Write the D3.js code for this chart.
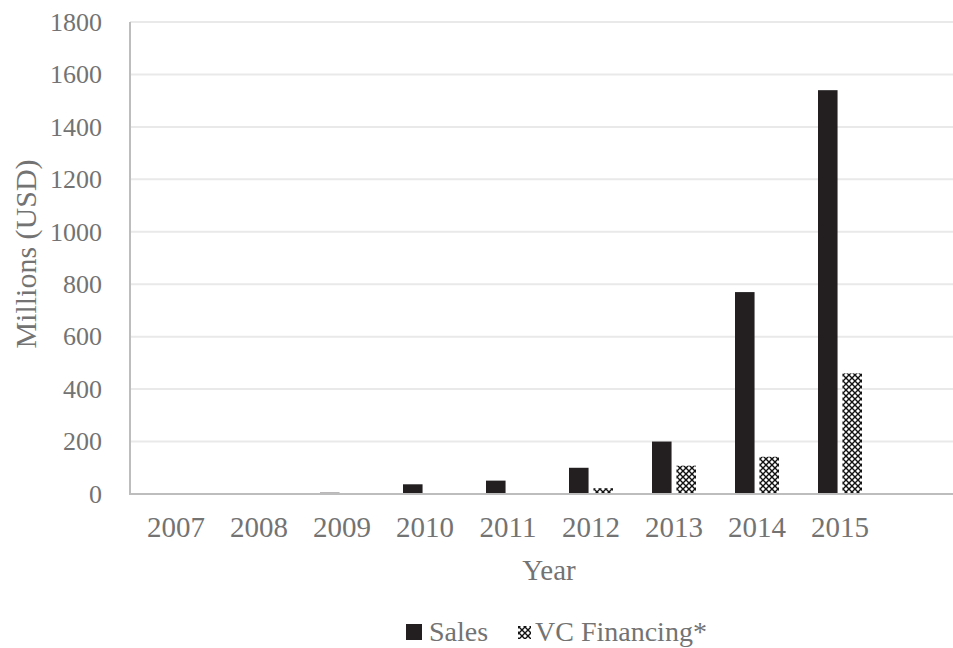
<!DOCTYPE html>
<html>
<head>
<meta charset="utf-8">
<script src="https://cdn.jsdelivr.net/npm/d3@7"></script>
<style>
  html, body { margin: 0; padding: 0; background: #fff; }
  svg { display: block; }
  text { font-family: "Liberation Serif", "Times New Roman", serif; fill: #737373; }
</style>
</head>
<body>
<svg id="chart" width="953" height="648"></svg>
<script>
// Yearly sales and venture-capital financing, millions of USD
const years = ["2007", "2008", "2009", "2010", "2011", "2012", "2013", "2014", "2015"];
const sales = [0, 0, 5, 37, 51, 100, 200, 770, 1540];
const vcFinancing = [0, 0, 0, 0, 0, 22, 108, 142, 460];
const seriesNames = ["Sales", "VC Financing*"];
const yTicks = [0, 200, 400, 600, 800, 1000, 1200, 1400, 1600, 1800];

const W = 953, H = 648;
const plot = { left: 130, right: W, top: 22, bottom: 494 };

const svg = d3.select("#chart");

// Cross-hatched lattice used for the VC series
const defs = svg.append("defs");
const pat = defs.append("pattern")
  .attr("id", "lattice")
  .attr("patternUnits", "userSpaceOnUse")
  .attr("width", 6).attr("height", 6);
pat.append("rect").attr("width", 6).attr("height", 6).attr("fill", "#fff");
pat.append("path")
  .attr("d", "M0,0 L6,6 M6,0 L0,6")
  .attr("stroke", "#111").attr("stroke-width", 1.4);
pat.append("circle").attr("cx", 3).attr("cy", 0).attr("r", 0.9).attr("fill", "#fff");
pat.append("circle").attr("cx", 3).attr("cy", 6).attr("r", 0.9).attr("fill", "#fff");

const y = d3.scaleLinear().domain([0, 1800]).range([plot.bottom, plot.top]);
const x = d3.scaleBand().domain(years).range([134.5, 134.5 + 83 * years.length]).paddingInner(0).paddingOuter(0);
const xs = d3.scaleBand().domain(seriesNames).range([-22, 22]).paddingInner(0.2);

// Horizontal gridlines
svg.append("g")
  .selectAll("line")
  .data(yTicks.filter(d => d > 0))
  .join("line")
  .attr("x1", plot.left).attr("x2", plot.right)
  .attr("y1", d => y(d)).attr("y2", d => y(d))
  .attr("stroke", "#e9e9e9").attr("stroke-width", 2);

// Y axis
const yAxis = svg.append("g")
  .attr("transform", `translate(${plot.left},0)`)
  .call(d3.axisLeft(y).tickValues(yTicks).tickSize(0).tickPadding(28).tickFormat(d3.format("d")));
yAxis.select(".domain").remove();
yAxis.selectAll("text").style("font-size", "26px");
svg.append("line")
  .attr("x1", plot.left).attr("x2", plot.left)
  .attr("y1", plot.top).attr("y2", plot.bottom)
  .attr("stroke", "#bdbdbd").attr("stroke-width", 2);

// Bars
const rows = years.map((yr, i) => ({ yr, values: [sales[i], vcFinancing[i]] }));
const groups = svg.append("g")
  .selectAll("g")
  .data(rows)
  .join("g")
  .attr("transform", d => `translate(${x(d.yr) + x.bandwidth() / 2},0)`);
groups.selectAll("rect")
  .data(d => d.values.map((v, k) => ({ v, name: seriesNames[k], k })))
  .join("rect")
  .attr("x", d => xs(d.name))
  .attr("width", xs.bandwidth())
  .attr("y", d => y(d.v))
  .attr("height", d => y(0) - y(d.v))
  .attr("fill", d => d.k === 0 ? "#231f20" : "url(#lattice)");

// X axis
svg.append("line")
  .attr("x1", plot.left - 1).attr("x2", plot.right)
  .attr("y1", plot.bottom).attr("y2", plot.bottom)
  .attr("stroke", "#bdbdbd").attr("stroke-width", 2);
const xAxis = svg.append("g")
  .attr("transform", `translate(0,${plot.bottom})`)
  .call(d3.axisBottom(x).tickSize(0).tickPadding(22));
xAxis.select(".domain").remove();
xAxis.selectAll("text").style("font-size", "29px");

// Axis titles
svg.append("text")
  .attr("x", 549).attr("y", 580)
  .attr("text-anchor", "middle")
  .style("font-size", "29px")
  .text("Year");
svg.append("text")
  .attr("transform", "translate(36,254) rotate(-90)")
  .attr("text-anchor", "middle")
  .style("font-size", "30px")
  .text("Millions (USD)");

// Legend
const legend = svg.append("g");
legend.append("rect").attr("x", 406).attr("y", 624).attr("width", 16).attr("height", 16).attr("fill", "#231f20");
legend.append("text").attr("x", 429).attr("y", 641).style("font-size", "28px").text(seriesNames[0]);
legend.append("rect").attr("x", 518).attr("y", 626).attr("width", 13).attr("height", 13).attr("fill", "url(#lattice)");
legend.append("text").attr("x", 535).attr("y", 641).style("font-size", "28px").text(seriesNames[1]);
</script>
</body>
</html>
